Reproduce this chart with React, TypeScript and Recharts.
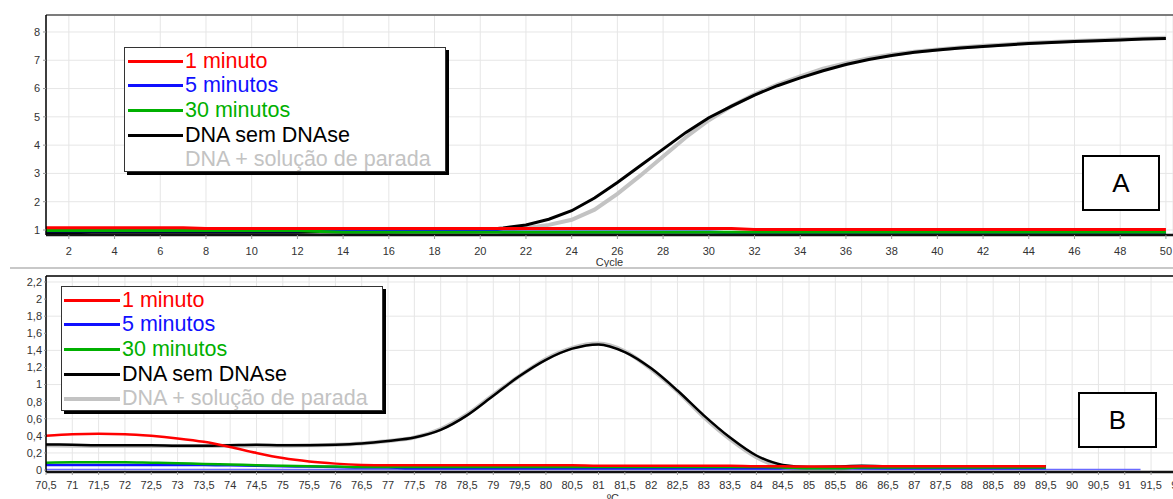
import { LineChart, Line, XAxis, YAxis, CartesianGrid, Legend, ReferenceLine, Label } from "recharts";

const FONT = '"Liberation Sans", Arial, Helvetica, sans-serif';

// --- A: amplification curves, fluorescence per cycle
const cycles = Array.from({ length: 50 }, (_, i) => i + 1);
const cycleTicks = Array.from({ length: 25 }, (_, i) => (i + 1) * 2);
const ampTicks = [1, 2, 3, 4, 5, 6, 7, 8];

const ampRed = [
  1.08, 1.08, 1.08, 1.08, 1.08, 1.08, 1.08, 1.05, 1.05, 1.05,
  1.05, 1.05, 1.05, 1.05, 1.05, 1.05, 1.05, 1.05, 1.05, 1.05,
  1.05, 1.05, 1.05, 1.05, 1.05, 1.05, 1.05, 1.05, 1.05, 1.05,
  1.05, 1.02, 1.02, 1.02, 1.02, 1.02, 1.02, 1.02, 1.02, 1.02,
  1.02, 1.02, 1.02, 1.02, 1.02, 1.02, 1.02, 1.02, 1.02, 1.02,
];
const ampBlue = [
  0.97, 0.97, 0.97, 0.97, 0.97, 0.97, 0.97, 0.97, 0.97, 0.97,
  0.97, 0.97, 1.0, 1.0, 1.0, 1.0, 1.0, 1.0, 1.0, 1.0,
  0.93, 0.93, 0.93, 0.93, 0.93, 0.93, 0.93, 0.93, 0.93, 0.93,
  0.9, 0.9, 0.9, 0.9, 0.9, 0.9, 0.87, 0.87, 0.87, 0.87,
  0.87, 0.87, 0.87, 0.87, 0.87, 0.87, 0.87, 0.87, 0.87, 0.87,
];
const ampGreen = [
  0.98, 0.98, 0.98, 0.98, 0.98, 0.98, 0.98, 0.98, 0.98, 0.98,
  0.98, 0.98, 0.95, 0.92, 0.92, 0.92, 0.92, 0.92, 0.92, 0.92,
  0.92, 0.92, 0.92, 0.92, 0.92, 0.92, 0.92, 0.92, 0.92, 0.92,
  0.92, 0.92, 0.92, 0.92, 0.92, 0.92, 0.92, 0.92, 0.92, 0.92,
  0.92, 0.92, 0.92, 0.92, 0.92, 0.92, 0.92, 0.92, 0.92, 0.92,
];
const ampBlack = [
  0.9, 0.9, 0.92, 0.92, 0.92, 0.92, 0.92, 0.92, 0.92, 0.92,
  0.92, 0.92, 0.94, 0.94, 0.94, 0.94, 0.95, 0.96, 0.98, 1.0,
  1.07, 1.18, 1.38, 1.68, 2.13, 2.68, 3.27, 3.86, 4.45, 4.97,
  5.38, 5.77, 6.1, 6.38, 6.63, 6.85, 7.03, 7.17, 7.28, 7.36,
  7.43, 7.49, 7.54, 7.59, 7.63, 7.66, 7.69, 7.72, 7.75, 7.77,
];
const ampGrey = [
  0.88, 0.88, 0.88, 0.88, 0.88, 0.88, 0.88, 0.88, 0.88, 0.88,
  0.88, 0.88, 0.88, 0.88, 0.88, 0.88, 0.88, 0.9, 0.92, 0.95,
  1.0, 1.07, 1.18, 1.36, 1.72, 2.28, 2.92, 3.6, 4.28, 4.88,
  5.38, 5.8, 6.14, 6.43, 6.7, 6.9, 7.07, 7.2, 7.3, 7.38,
  7.45, 7.51, 7.56, 7.61, 7.65, 7.68, 7.71, 7.74, 7.77, 7.8,
];

// --- B: melt curves, -dF/dT per temperature
const temps = Array.from({ length: 39 }, (_, i) => 70.5 + i * 0.5);
const tempTicks = Array.from({ length: 44 }, (_, i) => 70.5 + i * 0.5);
const meltTicks = [0, 0.2, 0.4, 0.6, 0.8, 1, 1.2, 1.4, 1.6, 1.8, 2, 2.2];

const meltRed = [
  0.4, 0.42, 0.425, 0.42, 0.4, 0.37, 0.33, 0.27, 0.2, 0.14,
  0.1, 0.075, 0.06, 0.055, 0.055, 0.055, 0.055, 0.055, 0.055, 0.055,
  0.055, 0.05, 0.05, 0.05, 0.05, 0.05, 0.05, 0.045, 0.045, 0.04,
  0.04, 0.045, 0.045, 0.045, 0.045, 0.045, 0.045, 0.045, 0.045,
];
const meltBlue = [
  0.06, 0.06, 0.06, 0.06, 0.06, 0.06, 0.06, 0.055, 0.05, 0.045,
  0.04, 0.035, 0.03, 0.03, 0.02, 0.02, 0.02, 0.02, 0.02, 0.02,
  0.02, 0.02, 0.02, 0.02, 0.02, 0.02, 0.02, 0.02, 0.02, 0.02,
  0.02, 0.02, 0.02, 0.02, 0.02, 0.02, 0.02, 0.02, 0.02,
];
const meltGreen = [
  0.085, 0.09, 0.09, 0.09, 0.085, 0.08, 0.07, 0.065, 0.055, 0.05,
  0.045, 0.04, 0.035, 0.035, 0.035, 0.035, 0.035, 0.035, 0.035, 0.035,
  0.035, 0.035, 0.035, 0.035, 0.035, 0.035, 0.035, 0.035, 0.03, 0.02,
  0.02, 0.03, 0.03, 0.03, 0.03, 0.03, 0.03, 0.03, 0.03,
];
const meltBlack = [
  0.3, 0.295, 0.29, 0.29, 0.29, 0.285, 0.285, 0.29, 0.295, 0.29,
  0.29, 0.295, 0.31, 0.34, 0.38, 0.47, 0.64, 0.87, 1.1, 1.29,
  1.42, 1.47, 1.38, 1.19, 0.93, 0.64, 0.38, 0.17, 0.06, 0.035,
  0.04, 0.05, 0.045, 0.045, 0.045, 0.045, 0.045, 0.045, 0.045,
];
const meltGrey = [
  0.29, 0.285, 0.28, 0.28, 0.28, 0.28, 0.28, 0.285, 0.285, 0.285,
  0.29, 0.295, 0.31, 0.34, 0.38, 0.48, 0.65, 0.88, 1.1, 1.3,
  1.43, 1.48, 1.39, 1.18, 0.92, 0.62, 0.36, 0.15, 0.03, 0.0,
  0.01, 0.03, 0.035, 0.035, 0.035, 0.035, 0.035, 0.035, 0.035,
];
// extra trace that runs past the others
const baseTemps = [70.5, 91.3];
const baseVals = [0.005, 0.005];

const SERIES = [
  { key: "grey", name: "DNA + solução de parada", color: "#c3c3c3" },
  { key: "black", name: "DNA sem DNAse", color: "#000000" },
  { key: "blue", name: "5 minutos", color: "#1010ff" },
  { key: "green", name: "30 minutos", color: "#00b000" },
  { key: "red", name: "1 minuto", color: "#ff0000" },
];
const LEGEND_ORDER = ["red", "blue", "green", "black", "grey"];

const ampData = cycles.map((c, i) => ({
  x: c, red: ampRed[i], blue: ampBlue[i], green: ampGreen[i], black: ampBlack[i], grey: ampGrey[i],
}));
const meltData = temps.map((t, i) => ({
  x: t, red: meltRed[i], blue: meltBlue[i], green: meltGreen[i], black: meltBlack[i], grey: meltGrey[i],
}));
const baseData = baseTemps.map((t, i) => ({ x: t, base: baseVals[i] }));

const comma = (v: number) => String(v).replace(".", ",");

function LegendBox({ greyLine, lineLeft, lineW }: { greyLine: boolean; lineLeft: number; lineW: number }) {
  return (
    <div style={{
      width: 322, height: 125, boxSizing: "border-box", border: "1.5px solid #333",
      boxShadow: "3px 3px 0 #000", background: "#fff", paddingTop: 1, fontFamily: FONT,
    }}>
      {LEGEND_ORDER.map((k) => {
        const s = SERIES.find((d) => d.key === k)!;
        const showLine = k !== "grey" || greyLine;
        return (
          <div key={k} style={{ display: "flex", alignItems: "center", height: 24.6 }}>
            <div style={{
              marginLeft: lineLeft, width: lineW, height: k === "grey" ? 4 : 3,
              background: showLine ? s.color : "transparent", flex: "none",
            }} />
            <span style={{ marginLeft: 2, fontSize: 21.5, color: s.color, whiteSpace: "nowrap", lineHeight: "25px" }}>
              {s.name}
            </span>
          </div>
        );
      })}
    </div>
  );
}

const tickStyle = { fontSize: 11, fill: "#333", fontFamily: FONT };
const width = (k: string) => (k === "grey" ? 4 : k === "black" ? 2.5 : 2.5);

function Tag({ left, top, w, text }: { left: number; top: number; w: number; text: string }) {
  return (
    <div style={{
      position: "absolute", left, top, width: w, height: 56, boxSizing: "border-box",
      border: "2px solid #000", background: "#fff", display: "flex", alignItems: "center",
      justifyContent: "center", fontSize: 26, fontFamily: FONT,
    }}>{text}</div>
  );
}

export default function App() {
  return (
    <div style={{ position: "absolute", left: 0, top: 0, width: 1173, height: 499, overflow: "hidden", background: "#fff", fontFamily: FONT }}>
      <div style={{ position: "absolute", left: 0, top: 0 }}>
        <LineChart width={1173} height={268} data={ampData} margin={{ top: 15, right: 0, bottom: 0, left: 0 }}>
          <CartesianGrid stroke="#e6e6e6" strokeWidth={1} />
          <XAxis dataKey="x" type="number" domain={[1, 50.31]} ticks={cycleTicks} allowDataOverflow
            height={33} tick={tickStyle} tickSize={4} tickMargin={8}
            axisLine={{ stroke: "#111", strokeWidth: 2.5 }} tickLine={{ stroke: "#999" }}>
            <Label value="Cycle" position="insideBottom" offset={2} style={{ fontSize: 11, fill: "#333", fontFamily: FONT }} />
          </XAxis>
          <YAxis type="number" domain={[0.823, 8.6]} ticks={ampTicks} allowDataOverflow width={46}
            tick={tickStyle} tickSize={3} tickMargin={3}
            axisLine={{ stroke: "#000", strokeWidth: 1.5 }} tickLine={{ stroke: "#999" }} />
          <ReferenceLine y={8.6} stroke="#555" strokeWidth={1.5} />
          {SERIES.map((s) => (
            <Line key={s.key} type="linear" dataKey={s.key} name={s.name} stroke={s.color}
              strokeWidth={s.key === "grey" ? 4 : 3} dot={false} isAnimationActive={false} />
          ))}
          <Legend layout="vertical" align="center" verticalAlign="middle"
            wrapperStyle={{ left: 124, top: 47, width: 322, height: 125 }}
            content={() => <LegendBox greyLine={false} lineLeft={3} lineW={55} />} />
        </LineChart>
        <Tag left={1082} top={155} w={78} text="A" />
      </div>

      <div style={{ position: "absolute", left: 10, right: 0, top: 267, height: 2, background: "#c8c8c8" }} />

      <div style={{ position: "absolute", left: 0, top: 268 }}>
        <LineChart width={1180} height={240} margin={{ top: 8, right: 0, bottom: 0, left: 0 }}>
          <CartesianGrid stroke="#e6e6e6" strokeWidth={1} />
          <XAxis dataKey="x" type="number" domain={[70.5, 92.05]} ticks={tempTicks} allowDataOverflow
            height={36} tick={tickStyle} tickSize={3} tickMargin={6} tickFormatter={comma} interval={0}
            axisLine={{ stroke: "#111", strokeWidth: 2.5 }} tickLine={{ stroke: "#999" }}>
            <Label value="ºC" position="insideBottom" offset={6} style={{ fontSize: 11, fill: "#333", fontFamily: FONT }} />
          </XAxis>
          <YAxis type="number" domain={[-0.023, 2.27]} ticks={meltTicks} allowDataOverflow width={46}
            tick={tickStyle} tickSize={2} tickMargin={2} tickFormatter={comma}
            axisLine={{ stroke: "#000", strokeWidth: 1.5 }} tickLine={{ stroke: "#999" }} />
          <ReferenceLine y={2.27} stroke="#000" strokeWidth={1.5} />
          <Line data={baseData} type="linear" dataKey="base" stroke="#6a6aff" strokeWidth={1.5}
            dot={false} isAnimationActive={false} legendType="none" />
          {SERIES.map((s) => (
            <Line key={s.key} data={meltData} type="monotone" dataKey={s.key} name={s.name} stroke={s.color}
              strokeWidth={width(s.key)} dot={false} isAnimationActive={false} />
          ))}
          <Legend layout="vertical" align="center" verticalAlign="middle"
            wrapperStyle={{ left: 61, top: 18, width: 322, height: 125 }}
            content={() => <LegendBox greyLine={true} lineLeft={2} lineW={56} />} />
        </LineChart>
        <Tag left={1078} top={124} w={79} text="B" />
      </div>
    </div>
  );
}
